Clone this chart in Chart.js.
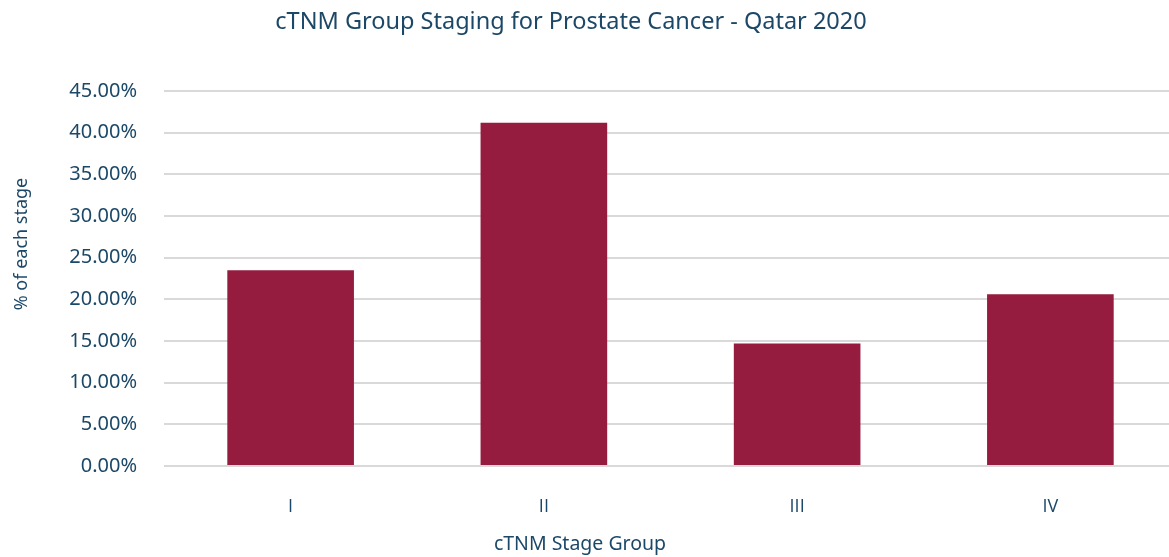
<!DOCTYPE html>
<html>
<head>
<meta charset="utf-8">
<script src="https://cdn.jsdelivr.net/npm/chart.js@4"></script>
<style>
    body { margin: 0; overflow: hidden; background: #fff; }
</style>
</head>
<body>
<canvas id="stages" width="1177" height="557"></canvas>
<script>
const stageLabels = ['I', 'II', 'III', 'IV'];
const stagePercents = [23.5, 41.2, 14.7, 20.6];
const tickMax = 45;
const tickStep = 5;

const titleText = 'cTNM Group Staging for Prostate Cancer - Qatar 2020';
const xTitleText = 'cTNM Stage Group';
const yTitleText = '% of each stage';

const textColour = '#1c4868';
const barColour = '#951b3f';
const gridColour = '#d9d9d9';
const fontFamily = '"Noto Sans", sans-serif';
const numeralFont = '"Open Sans", sans-serif';

// the original titles are not centred on the plot, so draw them by hand
const looseTitles = {
    id: 'looseTitles',
    afterDraw(chart) {
        const ctx = chart.ctx;
        ctx.save();
        ctx.fillStyle = textColour;
        ctx.textAlign = 'center';
        ctx.textBaseline = 'middle';
        ctx.font = '23.5px ' + fontFamily;
        ctx.fillText(titleText, 571, 22);
        ctx.font = '19.5px ' + fontFamily;
        ctx.fillText(xTitleText, 580, 544);
        ctx.translate(22, 244);
        ctx.rotate(-Math.PI / 2);
        ctx.font = '18px ' + fontFamily;
        ctx.fillText(yTitleText, 0, 0);
        ctx.restore();
    }
};

function drawChart() {
    const canvas = document.getElementById('stages');

    new Chart(canvas, {
        type: 'bar',
        data: {
            labels: stageLabels,
            datasets: [{
                data: stagePercents,
                backgroundColor: barColour,
                categoryPercentage: 1,
                barPercentage: 0.5
            }]
        },
        options: {
            responsive: false,
            animation: false,
            layout: {
                padding: {top: 91, left: 0, right: 0, bottom: 0}
            },
            plugins: {
                legend: {display: false},
                title: {display: false},
                tooltip: {enabled: false}
            },
            scales: {
                x: {
                    grid: {display: false},
                    border: {display: false},
                    ticks: {
                        color: textColour,
                        font: {family: numeralFont, size: 18},
                        padding: 22
                    },
                    afterFit(scale) {
                        scale.height = 91;
                    }
                },
                y: {
                    min: 0,
                    max: tickMax,
                    grid: {color: gridColour, lineWidth: 2, drawTicks: false},
                    border: {display: false},
                    ticks: {
                        stepSize: tickStep,
                        color: textColour,
                        font: {family: fontFamily, size: 20},
                        padding: 27,
                        callback: (v) => v.toFixed(2) + '%'
                    },
                    afterFit(scale) {
                        scale.width = 164;
                    }
                }
            }
        },
        plugins: [looseTitles]
    });
}

Promise.all([
    document.fonts.load('18px "Noto Sans"'),
    document.fonts.load('18px "Open Sans"')
]).then(drawChart, drawChart);
</script>
</body>
</html>
